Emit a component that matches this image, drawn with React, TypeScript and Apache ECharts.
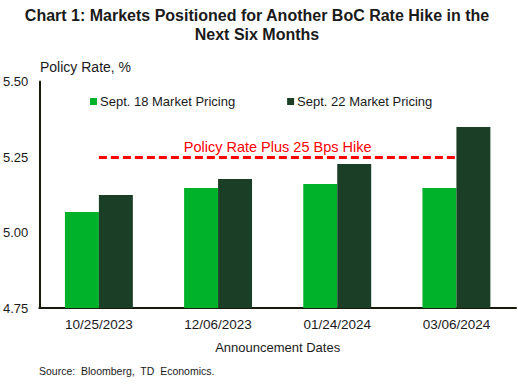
import React, { useEffect, useRef } from "react";
import * as echarts from "echarts";

const categories = ["10/25/2023", "12/06/2023", "01/24/2024", "03/06/2024"];
const sept18 = [5.068, 5.147, 5.161, 5.147];
const sept22 = [5.124, 5.177, 5.227, 5.349];
const seriesNames = ["Sept. 18 Market Pricing", "Sept. 22 Market Pricing"];
const hikeLevel = 5.25;
const hikeLabel = "Policy Rate Plus 25 Bps Hike";
const yMin = 4.75;
const yMax = 5.5;
const yStep = 0.25;

const FONT = "Arial, 'Liberation Sans', sans-serif";

export default function App() {
  const ref = useRef<HTMLDivElement>(null);
  useEffect(() => {
    if (!ref.current) return;
    const chart = echarts.init(ref.current, undefined, { renderer: "svg" });
    chart.setOption({
      animation: false,
      backgroundColor: "#ffffff",
      textStyle: { fontFamily: FONT },
      title: {
        text: "Chart 1: Markets Positioned for Another BoC Rate Hike in the\nNext Six Months",
        left: 257,
        top: 6,
        padding: 0,
        textAlign: "center",
        textStyle: {
          fontFamily: FONT,
          fontSize: 16,
          fontWeight: "bold",
          color: "#1a1a1a",
          lineHeight: 19,
        },
      },
      legend: {
        left: 90,
        top: 95,
        padding: 0,
        itemWidth: 7,
        itemHeight: 7,
        itemGap: 52,
        icon: "rect",
        textStyle: { fontFamily: FONT, fontSize: 13, color: "#1a1a1a", padding: [0, 0, 0, -2] },
        data: seriesNames,
      },
      grid: { left: 39, right: 2, top: 81.5, bottom: 77, containLabel: false },
      xAxis: {
        type: "category",
        data: categories,
        name: "Announcement Dates",
        nameLocation: "middle",
        nameGap: 33,
        nameTextStyle: { fontFamily: FONT, fontSize: 13, color: "#1a1a1a" },
        axisLine: { show: true, lineStyle: { color: "#1a1a0a", width: 2 } },
        axisTick: { show: false },
        axisLabel: { fontFamily: FONT, fontSize: 13.5, color: "#1a1a1a", margin: 9 },
      },
      yAxis: {
        type: "value",
        min: yMin,
        max: yMax,
        interval: yStep,
        axisLine: { show: true, lineStyle: { color: "#1a1a0a", width: 2 } },
        axisTick: { show: false },
        splitLine: { show: false },
        axisLabel: {
          fontFamily: FONT,
          fontSize: 13,
          color: "#1a1a1a",
          margin: 11,
          formatter: (v: number) => v.toFixed(2),
        },
      },
      graphic: [
        {
          type: "text",
          left: 40,
          top: 60,
          style: { text: "Policy Rate, %", font: `14px ${FONT}`, fill: "#1a1a1a" },
        },
        {
          type: "text",
          left: 39,
          top: 365,
          style: { text: "Source:  Bloomberg,  TD  Economics.", font: `10.5px ${FONT}`, fill: "#1a1a1a" },
        },
      ],
      series: [
        {
          name: seriesNames[0],
          type: "bar",
          data: sept18,
          barGap: "0%",
          barCategoryGap: "43%",
          itemStyle: { color: "#00b22a" },
        },
        {
          name: seriesNames[1],
          type: "bar",
          data: sept22,
          barGap: "0%",
          barCategoryGap: "43%",
          itemStyle: { color: "#1b3f26" },
        },
        {
          name: "hike",
          type: "line",
          data: [],
          silent: true,
          markLine: {
            symbol: "none",
            silent: true,
            lineStyle: { color: "#ff0000", type: [8, 4], width: 3 },
            label: {
              show: true,
              position: "middle",
              formatter: hikeLabel,
              color: "#ff0000",
              fontFamily: FONT,
              fontSize: 14.5,
              distance: 3,
            },
            data: [
              [
                { coord: [categories[0], hikeLevel] },
                { coord: [categories[categories.length - 1], hikeLevel] },
              ],
            ],
          },
        },
      ],
    });
    return () => chart.dispose();
  }, []);
  return (
    <div
      ref={ref}
      style={{ position: "fixed", left: 0, top: 0, width: 518, height: 385, background: "#fff" }}
    />
  );
}
